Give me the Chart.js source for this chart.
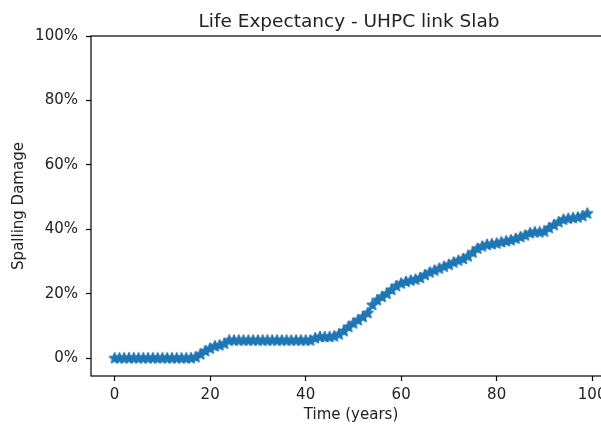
<!DOCTYPE html>
<html>
<head>
<meta charset="utf-8">
<script src="https://cdn.jsdelivr.net/npm/chart.js@4"></script>
<style>
    html, body { margin: 0; padding: 0; background: #fff; overflow: hidden; }
    #wrap { width: 620px; height: 426px; }
</style>
</head>
<body>
<div id="wrap"><canvas id="life-chart" width="620" height="426"></canvas></div>
<script>
// 年份 (x 軸)
const years = [
    0, 1, 2, 3, 4, 5, 6, 7, 8, 9,
    10, 11, 12, 13, 14, 15, 16, 17, 18, 19,
    20, 21, 22, 23, 24, 25, 26, 27, 28, 29,
    30, 31, 32, 33, 34, 35, 36, 37, 38, 39,
    40, 41, 42, 43, 44, 45, 46, 47, 48, 49,
    50, 51, 52, 53, 54, 55, 56, 57, 58, 59,
    60, 61, 62, 63, 64, 65, 66, 67, 68, 69,
    70, 71, 72, 73, 74, 75, 76, 77, 78, 79,
    80, 81, 82, 83, 84, 85, 86, 87, 88, 89,
    90, 91, 92, 93, 94, 95, 96, 97, 98, 99
];

// 剝落損傷比例
const spallingDamage = [
    0, 0, 0, 0, 0, 0, 0, 0, 0, 0,
    0, 0, 0, 0, 0, 0, 0, 0.003, 0.012, 0.022,
    0.030, 0.037, 0.040, 0.045, 0.055, 0.055, 0.055, 0.055, 0.055, 0.055,
    0.055, 0.055, 0.055, 0.055, 0.055, 0.055, 0.055, 0.055, 0.055, 0.055,
    0.055, 0.055, 0.062, 0.066, 0.066, 0.066, 0.068, 0.074, 0.084, 0.097,
    0.108, 0.118, 0.128, 0.140, 0.165, 0.180, 0.190, 0.200, 0.212, 0.224,
    0.232, 0.237, 0.241, 0.244, 0.249, 0.258, 0.266, 0.272, 0.278, 0.284,
    0.290, 0.297, 0.303, 0.308, 0.316, 0.328, 0.340, 0.347, 0.352, 0.354,
    0.356, 0.360, 0.363, 0.366, 0.371, 0.376, 0.381, 0.388, 0.391, 0.391,
    0.393, 0.404, 0.413, 0.422, 0.430, 0.433, 0.435, 0.437, 0.441, 0.449
];

// 刻度
const xTicks = [0, 20, 40, 60, 80, 100];
const yTicks = [0, 0.2, 0.4, 0.6, 0.8, 1.0];

const chartTitle = 'Life Expectancy - UHPC link Slab';
const xTitle = 'Time (years)';
const yTitle = 'Spalling Damage';

const BLUE = '#1f77b4';
const TEXT = '#222';
const FONT = '"DejaVu Sans", sans-serif';

// 五角星標記
function makeStar(color) {
    const c = document.createElement('canvas');
    c.width = 16;
    c.height = 16;
    const g = c.getContext('2d');
    const cx = 8, cy = 8, outer = 5.4, inner = 2.3;
    g.beginPath();
    for (let i = 0; i < 10; i++) {
        const r = i % 2 === 0 ? outer : inner;
        const a = -Math.PI / 2 + i * Math.PI / 5;
        const px = cx + r * Math.cos(a);
        const py = cy + r * Math.sin(a);
        if (i === 0) g.moveTo(px, py); else g.lineTo(px, py);
    }
    g.closePath();
    g.fillStyle = color;
    g.fill();
    g.lineWidth = 1.6;
    g.lineJoin = 'round';
    g.strokeStyle = color;
    g.stroke();
    return c;
}

// 外框與文字
const framePlugin = {
    id: 'frame',
    afterDraw(chart) {
        const { ctx, chartArea } = chart;
        const { left, right, top, bottom } = chartArea;
        ctx.save();
        ctx.strokeStyle = '#000';
        ctx.lineWidth = 1.2;
        ctx.strokeRect(left, top, right - left, bottom - top);

        ctx.fillStyle = TEXT;
        ctx.textAlign = 'center';

        ctx.font = '18.5px ' + FONT;
        ctx.textBaseline = 'alphabetic';
        ctx.fillText(chartTitle, (left + right) / 2 - 2, top - 9);

        ctx.font = '15px ' + FONT;
        ctx.textBaseline = 'top';
        ctx.fillText(xTitle, (left + right) / 2, 408);

        ctx.translate(19, (top + bottom) / 2);
        ctx.rotate(-Math.PI / 2);
        ctx.textBaseline = 'middle';
        ctx.fillText(yTitle, 0, 0);
        ctx.restore();
    }
};

const points = years.map((y, i) => ({ x: y, y: spallingDamage[i] }));

new Chart(document.getElementById('life-chart').getContext('2d'), {
    type: 'line',
    data: {
        datasets: [{
            data: points,
            borderColor: BLUE,
            backgroundColor: BLUE,
            borderWidth: 2.5,
            pointStyle: makeStar(BLUE),
            pointRadius: 6,
            pointHoverRadius: 6,
            tension: 0
        }]
    },
    options: {
        responsive: false,
        animation: false,
        layout: { padding: { left: 0, right: 9, top: 36, bottom: 0 } },
        plugins: {
            legend: { display: false },
            tooltip: { enabled: false },
            title: { display: false }
        },
        scales: {
            x: {
                type: 'linear',
                min: -4.95,
                max: 103.95,
                afterBuildTicks: scale => { scale.ticks = xTicks.map(v => ({ value: v })); },
                afterFit: scale => { scale.height = 50; },
                border: { display: false },
                grid: {
                    drawOnChartArea: false,
                    drawTicks: true,
                    tickLength: 5,
                    tickWidth: 1.2,
                    tickColor: '#000'
                },
                ticks: {
                    color: TEXT,
                    font: { family: FONT, size: 15 },
                    padding: 5,
                    maxRotation: 0,
                    callback: v => String(v)
                }
            },
            y: {
                type: 'linear',
                min: -0.055,
                max: 1.0,
                afterBuildTicks: scale => { scale.ticks = yTicks.map(v => ({ value: v })); },
                afterFit: scale => { scale.width = 91; },
                border: { display: false },
                grid: {
                    drawOnChartArea: false,
                    drawTicks: true,
                    tickLength: 5,
                    tickWidth: 1.2,
                    tickColor: '#000'
                },
                ticks: {
                    color: TEXT,
                    font: { family: FONT, size: 15 },
                    padding: 8,
                    callback: v => Math.round(v * 100) + '%'
                }
            }
        }
    },
    plugins: [framePlugin]
});
</script>
</body>
</html>
